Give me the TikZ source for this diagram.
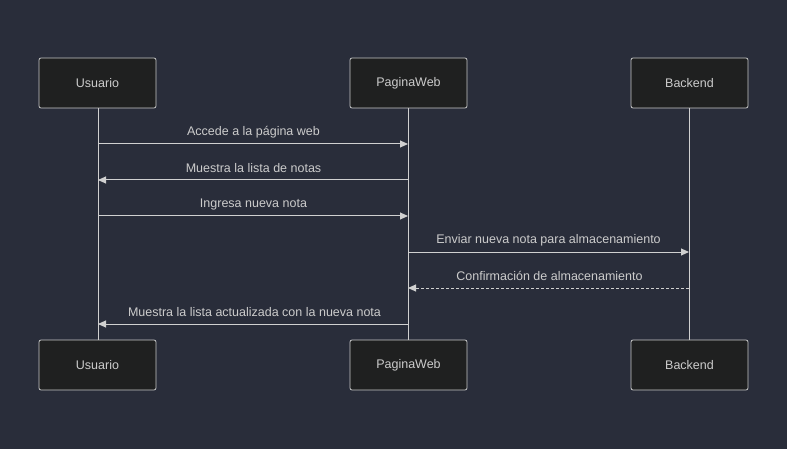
\documentclass[tikz,border=0pt]{standalone}
\usepackage{fontspec}
\setmainfont{Liberation Sans}
\usetikzlibrary{arrows.meta}
\definecolor{bg}{HTML}{292D3A}
\definecolor{boxfill}{HTML}{1F2020}
\definecolor{boxline}{HTML}{C8C8C8}
\definecolor{txt}{HTML}{CCCCCC}
\definecolor{ln}{HTML}{D0D0D0}
\tikzset{
  actor/.style={draw=boxline, fill=boxfill, line width=0.8pt, rounded corners=2pt, minimum width=117pt, minimum height=50pt, text=txt, font=\fontsize{12.5}{14}\selectfont, inner sep=0pt},
  life/.style={draw=ln, line width=1pt},
  msg/.style={draw=ln, line width=1pt, -{Triangle[length=8pt,width=7pt]}},
  ret/.style={msg, dash pattern=on 3pt off 2pt},
  lbl/.style={text=txt, font=\fontsize{12.5}{14}\selectfont, inner sep=0pt}
}
\begin{document}
\begin{tikzpicture}[x=1pt,y=-1pt]
\fill[bg] (0,0) rectangle (787,449);
\useasboundingbox (0,0) rectangle (787,449);
% lifelines
\coordinate (u1) at (98,108); \coordinate (u2) at (98,340);
\coordinate (p1) at (408,108); \coordinate (p2) at (408,340);
\coordinate (b1) at (689,108); \coordinate (b2) at (689,340);
\draw[life] (u1) -- (u2);
\draw[life] (p1) -- (p2);
\draw[life] (b1) -- (b2);
% actors
\node[actor] (ut) at (97.5,83) {Usuario};
\node[actor] (pt) at (408.5,83) {PaginaWeb};
\node[actor] (bt) at (689.5,83) {Backend};
\node[actor] (ub) at (97.5,365) {Usuario};
\node[actor] (pb) at (408.5,365) {PaginaWeb};
\node[actor] (bb) at (689.5,365) {Backend};
% message endpoints
\foreach \y/\n in {144/1,180/2,216/3,252/4,288/5,324/6}{
  \coordinate (U\n) at (98,\y);
  \coordinate (P\n) at (408,\y);
  \coordinate (B\n) at (689,\y);
}
\draw[msg] (U1) -- (P1);
\node[lbl] (l1) at (253.5,132) {Accede a la página web};
\draw[msg] (P2) -- (U2);
\node[lbl] (l2) at (253.5,168) {Muestra la lista de notas};
\draw[msg] (U3) -- (P3);
\node[lbl] (l3) at (253.5,204) {Ingresa nueva nota};
\draw[msg] (P4) -- (B4);
\node[lbl] (l4) at (548.5,240) {Enviar nueva nota para almacenamiento};
\draw[ret] (B5) -- (P5);
\node[lbl] (l5) at (549.5,276) {Confirmación de almacenamiento};
\draw[msg] (P6) -- (U6);
\node[lbl] (l6) at (254.5,312) {Muestra la lista actualizada con la nueva nota};
\end{tikzpicture}
\end{document}
